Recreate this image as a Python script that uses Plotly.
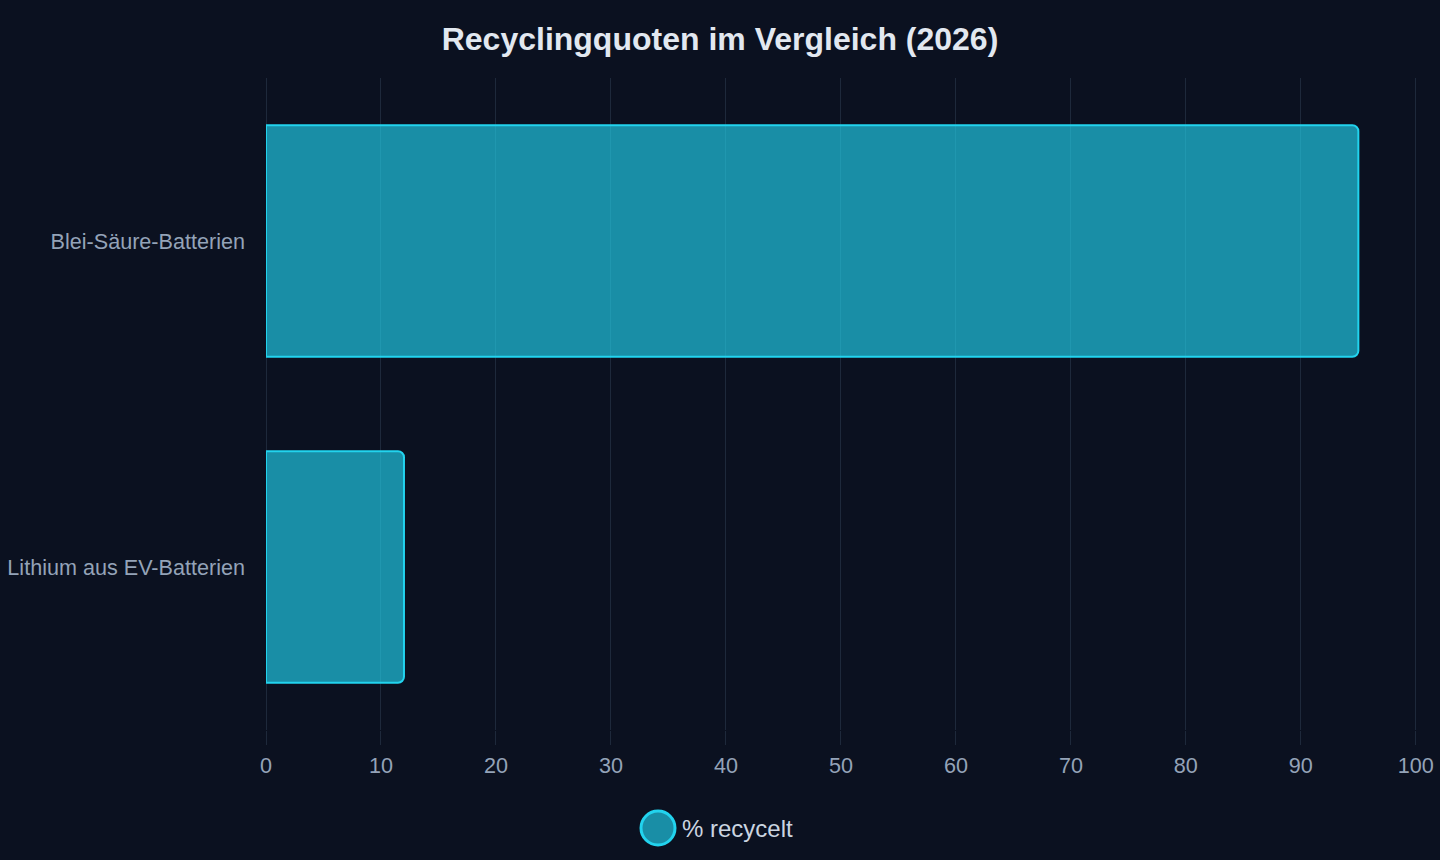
import plotly.graph_objects as go

categories = ["Blei-Säure-Batterien", "Lithium aus EV-Batterien"]
values = [95, 12]
series_name = "% recycelt"
x_ticks = [0, 10, 20, 30, 40, 50, 60, 70, 80, 90, 100]

BG = "#0b1120"
GRID = "#1e293b"
FONT = "Liberation Sans, Arial, sans-serif"

fig = go.Figure()
fig.add_trace(go.Bar(
    y=categories, x=values, orientation="h", name=series_name,
    marker=dict(color="rgba(34,211,238,0.65)", line=dict(color="#22d3ee", width=2)),
    showlegend=False,
))

fig.update_layout(
    width=1440, height=860,
    paper_bgcolor=BG, plot_bgcolor=BG,
    font=dict(family=FONT, color="#94a3b8", size=21.6),
    title=dict(text="<b>Recyclingquoten im Vergleich (2026)</b>", x=0.5, xanchor="center",
               y=1 - 39 / 860, yanchor="middle",
               font=dict(size=32, color="#e2e8f0", family=FONT)),
    margin=dict(l=266, r=23, t=78, b=130),
    bargap=0.29,
    barcornerradius=6,
    xaxis=dict(range=[0, 100.1], tickvals=x_ticks, gridcolor=GRID, gridwidth=1,
               zeroline=True, zerolinecolor=GRID, zerolinewidth=1,
               showline=False, ticks="outside", ticklen=14, automargin=False,
               tickcolor=GRID, ticklabelstandoff=2,
               tickfont=dict(size=21.6, color="#94a3b8")),
    yaxis=dict(autorange="reversed", showgrid=False, zeroline=False, showline=False,
               automargin=False, ticklabelstandoff=20,
               tickfont=dict(size=21.6, color="#94a3b8")),
    showlegend=False,
)

# Legend drawn manually (large circle swatch)
fig.add_shape(type="circle", xref="paper", yref="paper",
              x0=(641 - 266) / 1151, x1=(675 - 266) / 1151,
              y0=-(811 - 730) / 652, y1=-(845 - 730) / 652,
              fillcolor="rgba(34,211,238,0.65)", line=dict(color="#22d3ee", width=3))
fig.add_annotation(xref="paper", yref="paper", x=(680 - 266) / 1151, y=-(828 - 730) / 652,
                   xanchor="left", yanchor="middle", showarrow=False,
                   text=series_name, font=dict(size=24, color="#cbd5e1", family=FONT))

fig.write_html("out.html")
